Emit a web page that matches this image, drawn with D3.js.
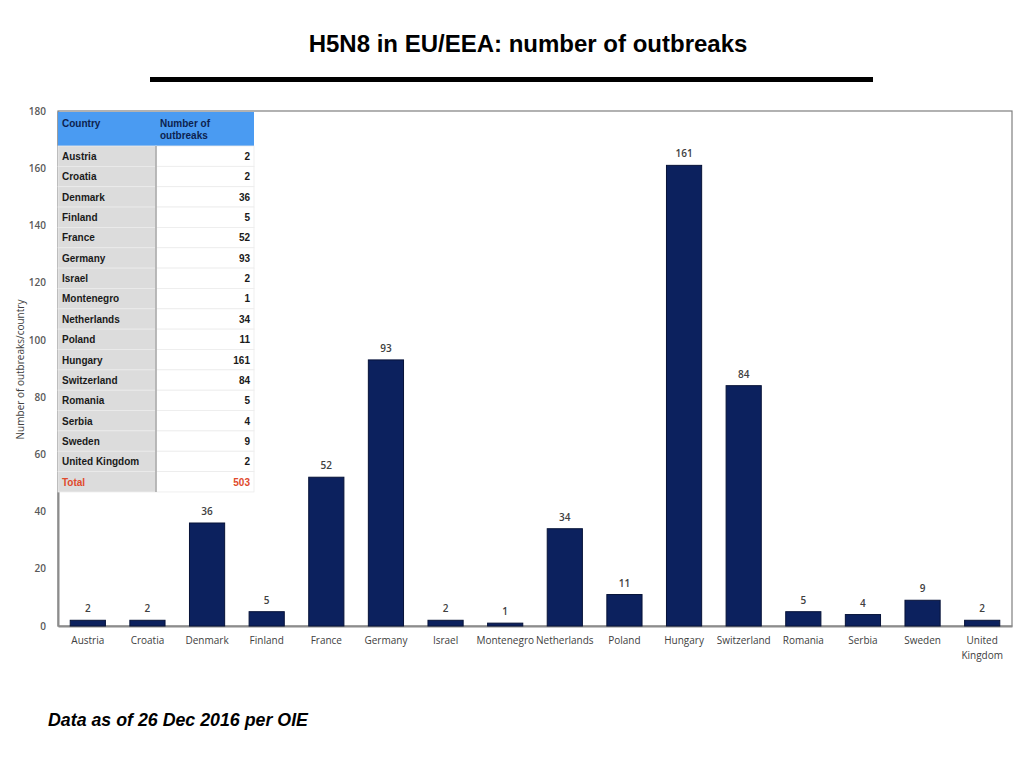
<!DOCTYPE html>
<html lang="en">
<head>
    <meta charset="utf-8">
    <script type="text/javascript" src="https://cdnjs.cloudflare.com/ajax/libs/d3/7.8.5/d3.min.js"></script>
    <style>
        body { margin: 0; background: #fff; }
    </style>
</head>
<body>
<script type="text/javascript">

    // Data
    let countries = ["Austria", "Croatia", "Denmark", "Finland", "France", "Germany", "Israel", "Montenegro",
        "Netherlands", "Poland", "Hungary", "Switzerland", "Romania", "Serbia", "Sweden", "United Kingdom"];
    let outbreaks = [2, 2, 36, 5, 52, 93, 2, 1, 34, 11, 161, 84, 5, 4, 9, 2];
    let yTicks = [0, 20, 40, 60, 80, 100, 120, 140, 160, 180];
    let totalLabel = "Total";
    let totalValue = 503;

    //Width and height
    let w = 1024;
    let h = 768;
    let margin = {top: 111, right: 12, bottom: 142, left: 58};

    let svg = d3.select("body")
        .append("svg")
        .attr("width", w)
        .attr("height", h);

    // Title and rule
    svg.append("text")
        .attr("x", 528)
        .attr("y", 52)
        .attr("text-anchor", "middle")
        .style("font-family", "Liberation Sans, Arial, sans-serif")
        .style("font-weight", "bold")
        .style("font-size", "24px")
        .text("H5N8 in EU/EEA: number of outbreaks");

    svg.append("rect")
        .attr("x", 150)
        .attr("y", 77)
        .attr("width", 723)
        .attr("height", 5)
        .attr("fill", "#000");

    //Scales
    let x = d3.scaleBand()
        .domain(countries)
        .range([margin.left, w - margin.right])
        .paddingInner(0.41)
        .paddingOuter(0.205);

    let y = d3.scaleLinear()
        .domain([0, 180])
        .range([h - margin.bottom, margin.top]);

    // Plot frame
    svg.append("rect")
        .attr("x", margin.left)
        .attr("y", margin.top)
        .attr("width", w - margin.right - margin.left)
        .attr("height", y(0) - margin.top)
        .attr("fill", "none")
        .attr("stroke", "#7f7f7f")
        .attr("stroke-width", 1.2);

    // Y axis
    let yAxis = svg.append("g")
        .attr("transform", "translate(" + margin.left + ",0)")
        .call(d3.axisLeft(y).tickValues(yTicks).tickSize(0).tickPadding(12));
    yAxis.select(".domain").attr("stroke", "#8c8c8c").attr("stroke-width", 2);
    yAxis.selectAll("text")
        .style("font-family", "Open Sans, sans-serif")
        .style("font-size", "10px")
        .style("font-weight", "600")
        .attr("fill", "#595959");

    svg.append("text")
        .attr("transform", "translate(24," + ((y(0) + margin.top) / 2 + 1) + ") rotate(-90)")
        .attr("text-anchor", "middle")
        .style("font-family", "Open Sans, sans-serif")
        .style("font-size", "10px")
        .attr("fill", "#404040")
        .text("Number of outbreaks/country");

    // X axis
    let xAxis = svg.append("g")
        .attr("transform", "translate(0," + y(0) + ")")
        .call(d3.axisBottom(x).tickSize(0).tickPadding(11));
    xAxis.select(".domain").attr("stroke", "#8c8c8c").attr("stroke-width", 2);
    xAxis.selectAll("text")
        .style("font-family", "Open Sans, sans-serif")
        .style("font-size", "10px")
        .attr("fill", "#404040")
        .each(function (d) {
            let words = d.split(" ");
            if (words.length > 1) {
                let t = d3.select(this).text(null);
                words.forEach((wd, i) => {
                    t.append("tspan")
                        .attr("x", 0)
                        .attr("dy", i === 0 ? "0.71em" : "1.45em")
                        .text(wd);
                });
                t.attr("dy", null);
            }
        });

    // Bars
    svg.selectAll("rect.bar")
        .data(countries)
        .enter()
        .append("rect")
        .attr("class", "bar")
        .attr("x", d => x(d))
        .attr("y", (d, i) => y(outbreaks[i]))
        .attr("width", x.bandwidth())
        .attr("height", (d, i) => y(0) - y(outbreaks[i]))
        .attr("fill", "#0c215e")
        .attr("stroke", "#061238")
        .attr("stroke-width", 1);

    // Value labels
    svg.selectAll("text.val")
        .data(countries)
        .enter()
        .append("text")
        .attr("class", "val")
        .attr("x", d => x(d) + x.bandwidth() / 2)
        .attr("y", (d, i) => y(outbreaks[i]) - 8)
        .attr("text-anchor", "middle")
        .style("font-family", "Open Sans, sans-serif")
        .style("font-size", "10px")
        .style("font-weight", "600")
        .attr("fill", "#404040")
        .text((d, i) => outbreaks[i]);

    // Table
    let tx = 58, ty = 112, colW = [98, 98], headH = 34, rowH = 20.35;
    let rows = countries.map((c, i) => [c, outbreaks[i]]);
    rows.push([totalLabel, totalValue]);

    let table = svg.append("g").style("font-family", "Liberation Sans, Arial, sans-serif");

    table.append("rect")
        .attr("x", tx).attr("y", ty)
        .attr("width", colW[0] + colW[1]).attr("height", headH)
        .attr("fill", "#4a9bf2");
    table.append("text")
        .attr("x", tx + 4).attr("y", ty + 15)
        .style("font-size", "10px").style("font-weight", "bold")
        .attr("fill", "#0d1f4f")
        .text("Country");
    table.append("text")
        .attr("x", tx + colW[0] + 4).attr("y", ty + 15)
        .style("font-size", "10px").style("font-weight", "bold")
        .attr("fill", "#0d1f4f")
        .selectAll("tspan")
        .data(["Number of", "outbreaks"])
        .enter()
        .append("tspan")
        .attr("x", tx + colW[0] + 4)
        .attr("dy", (d, i) => i === 0 ? 0 : 11.5)
        .text(d => d);

    let rowG = table.selectAll("g.row")
        .data(rows)
        .enter()
        .append("g")
        .attr("class", "row")
        .attr("transform", (d, i) => "translate(" + tx + "," + (ty + headH + i * rowH) + ")");

    rowG.append("rect")
        .attr("width", colW[0]).attr("height", rowH)
        .attr("fill", "#dcdcdc")
        .attr("stroke", "#ececec").attr("stroke-width", 0.8);
    rowG.append("rect")
        .attr("x", colW[0]).attr("width", colW[1]).attr("height", rowH)
        .attr("fill", "#ffffff")
        .attr("stroke", "#ececec").attr("stroke-width", 0.8);

    rowG.append("text")
        .attr("x", 4).attr("y", 14)
        .style("font-size", "10px").style("font-weight", "bold")
        .attr("fill", (d, i) => i === rows.length - 1 ? "#e04a2c" : "#1a1a1a")
        .text(d => d[0]);
    rowG.append("text")
        .attr("x", colW[0] + colW[1] - 4).attr("y", 14)
        .attr("text-anchor", "end")
        .style("font-size", "10px").style("font-weight", "bold")
        .attr("fill", (d, i) => i === rows.length - 1 ? "#e04a2c" : "#1a1a1a")
        .text(d => d[1]);

    // column divider
    table.append("line")
        .attr("x1", tx + colW[0]).attr("x2", tx + colW[0])
        .attr("y1", ty + headH).attr("y2", ty + headH + rows.length * rowH)
        .attr("stroke", "#a6a6a6").attr("stroke-width", 1.5);

    // Footer
    svg.append("text")
        .attr("x", 48)
        .attr("y", 726)
        .style("font-family", "Liberation Sans, Arial, sans-serif")
        .style("font-weight", "bold")
        .style("font-style", "italic")
        .style("font-size", "17.8px")
        .text("Data as of 26 Dec 2016 per OIE");

</script>
</body>
</html>
